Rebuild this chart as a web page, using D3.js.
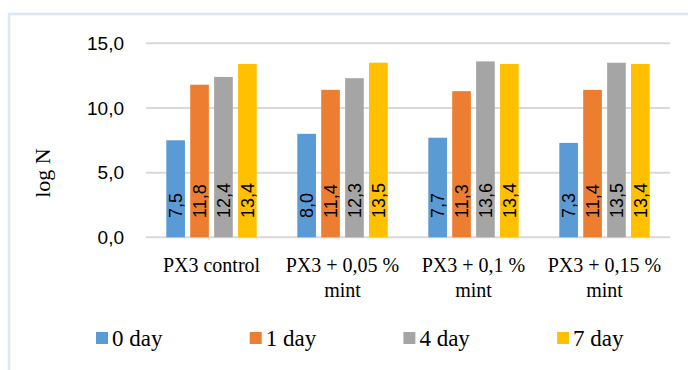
<!DOCTYPE html>
<html>
<head>
<meta charset="utf-8">
<script src="https://cdn.jsdelivr.net/npm/d3@7"></script>
<style>
  html, body { margin: 0; padding: 0; background: #fff; }
  svg { display: block; }
  .serif { font-family: 'Liberation Serif', 'Times New Roman', serif; }
  .sans { font-family: 'Liberation Sans', Arial, sans-serif; }
</style>
</head>
<body>
<svg id="chart" width="688" height="370"></svg>
<script>
// Bacterial counts (log N) per sample and storage day
const categories = [["PX3 control"], ["PX3 + 0,05 %", "mint"], ["PX3 + 0,1 %", "mint"], ["PX3 + 0,15 %", "mint"]];
const seriesNames = ["0 day", "1 day", "4 day", "7 day"];
const day0 = [7.5, 8.0, 7.7, 7.3];
const day1 = [11.8, 11.4, 11.3, 11.4];
const day4 = [12.4, 12.3, 13.6, 13.5];
const day7 = [13.4, 13.5, 13.4, 13.4];
const yTicks = [0, 5, 10, 15];
const colors = ["#5b9bd5", "#ed7d31", "#a5a5a5", "#ffc000"];

const series = [day0, day1, day4, day7];
const fmt = v => v.toFixed(1).replace(".", ",");

const svg = d3.select("#chart");

// Outer chart frame
svg.append("path")
  .attr("d", "M9,372 V14 H690")
  .attr("fill", "none")
  .attr("stroke", "#dce7f4")
  .attr("stroke-width", 2.5);

const plot = { left: 146, right: 670, top: 43.3, bottom: 237.3 };

const y = d3.scaleLinear().domain([0, 15]).range([plot.bottom, plot.top]);
const x0 = d3.scaleBand()
  .domain(d3.range(categories.length))
  .range([plot.left, plot.right])
  .paddingInner(0.31)
  .paddingOuter(0.155);
const x1 = d3.scaleBand()
  .domain(d3.range(seriesNames.length))
  .range([0, x0.bandwidth()])
  .paddingInner(0.22)
  .paddingOuter(0);

// Gridlines
svg.append("g").selectAll("line").data(yTicks).join("line")
  .attr("x1", plot.left).attr("x2", plot.right)
  .attr("y1", d => y(d)).attr("y2", d => y(d))
  .attr("stroke", "#d9d9d9").attr("stroke-width", 2);

// Y axis labels
const yAxis = d3.axisLeft(y).tickValues(yTicks).tickFormat(fmt).tickSize(0).tickPadding(0);
const yg = svg.append("g").attr("transform", "translate(124,0)").call(yAxis);
yg.select(".domain").remove();
yg.attr("font-family", null).attr("font-size", null);
yg.selectAll("text")
  .attr("class", "sans")
  .style("font-size", "19px")
  .attr("fill", "#000");

// Y axis title
svg.append("text")
  .attr("class", "serif")
  .attr("transform", "translate(50,173) rotate(-90)")
  .attr("text-anchor", "middle")
  .style("font-size", "22px")
  .attr("fill", "#000")
  .text("log N");

// Bars and value labels
const groups = svg.append("g").selectAll("g").data(categories).join("g")
  .attr("transform", (d, i) => `translate(${x0(i)},0)`);

groups.each(function (cat, ci) {
  const g = d3.select(this);
  series.forEach((vals, si) => {
    const v = vals[ci];
    g.append("rect")
      .attr("x", x1(si))
      .attr("y", y(v))
      .attr("width", x1.bandwidth())
      .attr("height", y(0) - y(v))
      .attr("fill", colors[si]);
    const cx = x1(si) + x1.bandwidth() / 2;
    g.append("text")
      .attr("class", "sans")
      .attr("transform", `translate(${cx + 6.5},218) rotate(-90)`)
      .attr("text-anchor", "start")
      .style("font-size", "18px")
      .attr("fill", "#000")
      .text(fmt(v));
  });
});

// Category labels
const xl = svg.append("g").selectAll("text").data(categories).join("text")
  .attr("class", "serif")
  .attr("x", (d, i) => x0(i) + x0.bandwidth() / 2)
  .attr("y", 272)
  .attr("text-anchor", "middle")
  .style("font-size", "20px")
  .attr("fill", "#000");
xl.each(function (lines) {
  const t = d3.select(this);
  lines.forEach((ln, k) => {
    t.append("tspan")
      .attr("x", t.attr("x"))
      .attr("dy", k === 0 ? 0 : 25)
      .text(ln);
  });
});

// Legend
const legend = svg.append("g").selectAll("g").data(seriesNames).join("g")
  .attr("transform", (d, i) => `translate(${96 + i * 153.7},332)`);
legend.append("rect")
  .attr("width", 12).attr("height", 12)
  .attr("fill", (d, i) => colors[i]);
legend.append("text")
  .attr("class", "serif")
  .attr("x", 16).attr("y", 14)
  .style("font-size", "23px")
  .attr("fill", "#000")
  .text(d => d);
</script>
</body>
</html>
